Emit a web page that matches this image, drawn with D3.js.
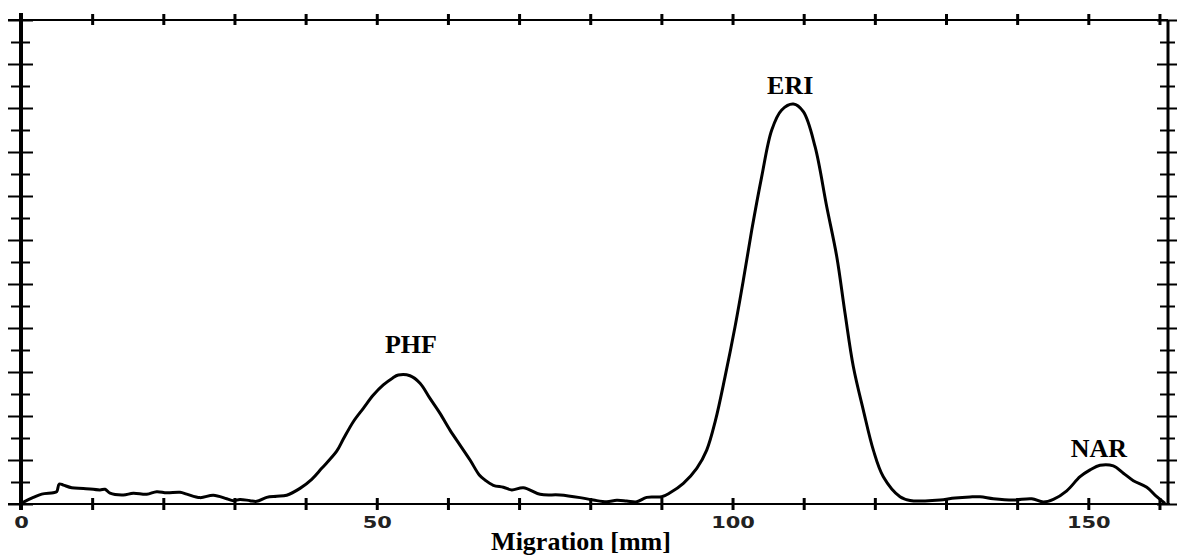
<!DOCTYPE html>
<html>
<head>
<meta charset="utf-8">
<script src="https://cdn.jsdelivr.net/npm/d3@7/dist/d3.min.js"></script>
<style>
    body { margin: 0; background: #fff; }
    .tick text { font-family: "DejaVu Sans", sans-serif; }
</style>
</head>
<body>
<div id="densitogram"></div>
<script>
// scanned densitogram (migration in mm, signal in tick units)
var migration = [0, 1.73, 2.91, 4.54, 5.02, 5.38, 5.95, 7.13, 8.76, 11.10, 11.81, 12.51, 14.38, 15.78,
    17.67, 19.07, 20.48, 22.35, 23.29, 25.16, 27.03, 28.91, 29.84, 30.78, 32.19, 33.13, 34.53,
    35.94, 37.34, 39.21, 40.86, 42.26, 44.37, 45.30, 46.70, 48.11, 49.52, 50.92, 52.2, 53.03, 54.67,
    56.08, 57.48, 58.89, 60.29, 61.70, 63.11, 64.41, 65.21, 66.38, 67.79, 68.97, 70.60, 72.95,
    75.76, 78.57, 80.44, 82.32, 83.72, 85.13, 86.54, 87.94, 90.05, 91.22, 93.09, 94.97, 96.37,
    97.60, 98.95, 100.35, 101.52, 102.70, 104.10, 105.51, 106.91, 108.55, 109.95, 111.60, 113.24,
    114.65, 115.81, 116.98, 118.38, 119.79, 121.19, 123.54, 124.95, 127.06, 129.17, 131.27,
    133.38, 134.79, 136.66, 139.47, 142.05, 143.68, 145.09, 146.97, 148.84, 150.25, 151.65,
    153.52, 154.93, 156.33, 158.22, 159.62, 160.79];
var intensity = [0.03, 0.30, 0.45, 0.51, 0.56, 0.91, 0.86, 0.74, 0.71, 0.64, 0.67, 0.49, 0.41, 0.49,
    0.44, 0.56, 0.51, 0.53, 0.45, 0.29, 0.40, 0.24, 0.15, 0.21, 0.15, 0.12, 0.30,
    0.35, 0.40, 0.71, 1.12, 1.62, 2.40, 2.95, 3.74, 4.35, 4.95, 5.41, 5.72, 5.86, 5.83,
    5.49, 4.80, 4.12, 3.36, 2.68, 2.00, 1.32, 1.09, 0.85, 0.76, 0.64, 0.74, 0.44,
    0.41, 0.29, 0.18, 0.10, 0.17, 0.14, 0.10, 0.30, 0.33, 0.51, 0.94, 1.62, 2.45,
    3.80, 5.79, 8.06, 10.18, 12.45, 14.88, 17.00, 17.91, 18.18, 17.83, 16.24, 13.51,
    11.24, 8.67, 6.24, 4.27, 2.45, 1.24, 0.33, 0.16, 0.14, 0.18, 0.27,
    0.32, 0.33, 0.24, 0.18, 0.24, 0.09, 0.21, 0.60, 1.24, 1.55, 1.76,
    1.73, 1.40, 1.06, 0.76, 0.33, 0.03];

var xTicks = d3.range(0, 161, 10);
var xLabelled = [0, 50, 100, 150];
var yTicks = d3.range(0, 23, 1);

var peakNames = ["PHF", "ERI", "NAR"];
var peakLabelMigration = [54.8, 108.1, 151.5];
var peakLabelLevel = [6.86, 18.64, 2.14];

var axisTitle = "Migration [mm]";

var width = 1177;
var height = 557;

var svg = d3.select("#densitogram")
    .append("svg")
    .attr("width", width)
    .attr("height", height);

var x = d3.scaleLinear().domain([0, 161.2]).range([21, 1168]);
var y = d3.scaleLinear().domain([0, 22]).range([504, 20]);

// bottom axis, ticks crossing the line
var bottom = svg.append("g")
    .attr("transform", "translate(0," + y(0) + ")")
    .call(d3.axisBottom(x)
        .tickValues(xTicks)
        .tickSizeInner(6)
        .tickSizeOuter(0)
        .tickFormat(function (d) {
            return xLabelled.indexOf(d) > -1 ? d : "";
        }));
bottom.select(".domain").remove();
bottom.selectAll(".tick line")
    .attr("y1", -6)
    .attr("stroke", "#000")
    .attr("stroke-width", 3);
// the scan's digits are very wide, so stretch them sideways
bottom.selectAll(".tick text")
    .attr("y", 24)
    .attr("dy", 0)
    .attr("font-size", 15)
    .attr("font-weight", "bold")
    .attr("transform", "scale(1.4,1)")
    .attr("fill", "#222");

var top_ = svg.append("g")
    .attr("transform", "translate(0," + y(22) + ")")
    .call(d3.axisTop(x).tickValues(xTicks).tickSizeInner(6).tickSizeOuter(0).tickFormat(""));
top_.select(".domain").remove();
top_.selectAll(".tick line")
    .attr("y1", 5)
    .attr("stroke", "#000")
    .attr("stroke-width", 3);

function isMajor(d) {
    return d % 2 === 0;
}

var left = svg.append("g")
    .attr("transform", "translate(" + x(0) + ",0)")
    .call(d3.axisLeft(y).tickValues(yTicks).tickSizeOuter(0).tickFormat(""));
left.select(".domain").remove();
left.selectAll(".tick line")
    .attr("x2", function (d) { return isMajor(d) ? -13 : -10; })
    .attr("x1", function (d) { return isMajor(d) ? 12 : 9; })
    .attr("stroke", "#000")
    .attr("stroke-width", 2);

var right = svg.append("g")
    .attr("transform", "translate(" + x(161.2) + ",0)")
    .call(d3.axisRight(y).tickValues(yTicks).tickSizeOuter(0).tickFormat(""));
right.select(".domain").remove();
right.selectAll(".tick line")
    .attr("x2", function (d) { return isMajor(d) ? 9 : 7; })
    .attr("x1", function (d) { return isMajor(d) ? -11 : -8; })
    .attr("stroke", "#000")
    .attr("stroke-width", 2);

// frame
svg.append("line")
    .attr("x1", 8).attr("x2", x(161.2))
    .attr("y1", y(22)).attr("y2", y(22))
    .attr("stroke", "#000").attr("stroke-width", 2);
svg.append("line")
    .attr("x1", 8).attr("x2", x(161.2) + 2)
    .attr("y1", y(0)).attr("y2", y(0))
    .attr("stroke", "#000").attr("stroke-width", 2);
svg.append("line")
    .attr("x1", x(0)).attr("x2", x(0))
    .attr("y1", 13).attr("y2", y(0) + 6)
    .attr("stroke", "#000").attr("stroke-width", 4);
svg.append("line")
    .attr("x1", x(161.2)).attr("x2", x(161.2))
    .attr("y1", y(22)).attr("y2", y(0))
    .attr("stroke", "#000").attr("stroke-width", 3);

// trace
var points = migration.map(function (m, i) {
    return [m, intensity[i]];
});
var line = d3.line()
    .x(function (d) { return x(d[0]); })
    .y(function (d) { return y(d[1]); })
    .curve(d3.curveCatmullRom.alpha(0.5));

svg.append("path")
    .datum(points)
    .attr("d", line)
    .attr("fill", "none")
    .attr("stroke", "#000")
    .attr("stroke-width", 3)
    .attr("stroke-linejoin", "round");

// peak names
svg.selectAll(".peakLabel")
    .data(peakNames)
    .enter()
    .append("text")
    .attr("class", "peakLabel")
    .attr("x", function (d, i) { return x(peakLabelMigration[i]); })
    .attr("y", function (d, i) { return y(peakLabelLevel[i]); })
    .attr("text-anchor", "middle")
    .attr("font-family", "'Liberation Serif', 'Times New Roman', serif")
    .attr("font-weight", "bold")
    .attr("font-size", 26)
    .text(function (d) { return d; });

svg.append("text")
    .attr("x", 581)
    .attr("y", 550)
    .attr("text-anchor", "middle")
    .attr("font-family", "'Liberation Serif', 'Times New Roman', serif")
    .attr("font-weight", "bold")
    .attr("font-size", 26)
    .text(axisTitle);
</script>
</body>
</html>
